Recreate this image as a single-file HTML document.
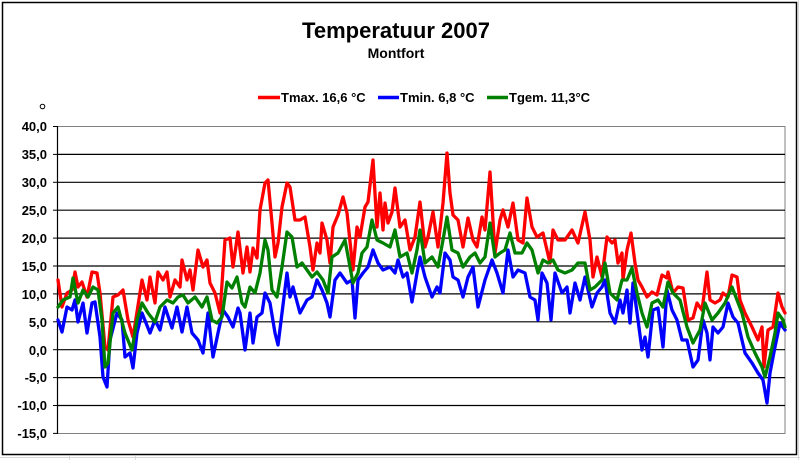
<!DOCTYPE html>
<html><head><meta charset="utf-8"><style>
html,body{margin:0;padding:0;background:#fff;}
svg{display:block;}
text{font-family:"Liberation Sans",Arial,sans-serif;font-weight:bold;fill:#000;}
</style></head><body>
<svg width="800" height="460" viewBox="0 0 800 460" xmlns="http://www.w3.org/2000/svg">
<rect x="0" y="0" width="800" height="460" fill="#fff"/>
<g stroke="#d8d8d8" stroke-width="1">
<line x1="0" y1="457.5" x2="800" y2="457.5"/>
<line x1="69.5" y1="456" x2="69.5" y2="460"/><line x1="135.5" y1="456" x2="135.5" y2="460"/>
<line x1="798.5" y1="0" x2="798.5" y2="460"/>
</g>
<rect x="2.5" y="2.5" width="794" height="452" fill="#fff" stroke="#000" stroke-width="1.5"/>
<rect x="57.5" y="126.5" width="727.5" height="307" fill="#fff" stroke="#808080" stroke-width="1"/>
<g stroke="#000" stroke-width="1.2">
<line x1="57" y1="154.4" x2="785" y2="154.4"/><line x1="57" y1="182.3" x2="785" y2="182.3"/>
<line x1="57" y1="210.2" x2="785" y2="210.2"/><line x1="57" y1="238.1" x2="785" y2="238.1"/>
<line x1="57" y1="266" x2="785" y2="266"/><line x1="57" y1="293.9" x2="785" y2="293.9"/>
<line x1="57" y1="321.8" x2="785" y2="321.8"/><line x1="57" y1="349.7" x2="785" y2="349.7"/>
<line x1="57" y1="377.6" x2="785" y2="377.6"/><line x1="57" y1="405.5" x2="785" y2="405.5"/>
<line x1="57.5" y1="126" x2="57.5" y2="434"/>
</g>
<g stroke="#000" stroke-width="1">
<line x1="53" y1="126.5" x2="57" y2="126.5"/><line x1="53" y1="154.4" x2="57" y2="154.4"/><line x1="53" y1="182.3" x2="57" y2="182.3"/><line x1="53" y1="210.2" x2="57" y2="210.2"/><line x1="53" y1="238.1" x2="57" y2="238.1"/><line x1="53" y1="266" x2="57" y2="266"/><line x1="53" y1="293.9" x2="57" y2="293.9"/><line x1="53" y1="321.8" x2="57" y2="321.8"/><line x1="53" y1="349.7" x2="57" y2="349.7"/><line x1="53" y1="377.6" x2="57" y2="377.6"/><line x1="53" y1="405.5" x2="57" y2="405.5"/><line x1="53" y1="433.4" x2="57" y2="433.4"/>
</g>
<g font-size="13" text-anchor="end">
<text x="47" y="131">40,0</text><text x="47" y="159">35,0</text><text x="47" y="187">30,0</text><text x="47" y="215">25,0</text><text x="47" y="243">20,0</text><text x="47" y="271">15,0</text><text x="47" y="299">10,0</text><text x="47" y="327">5,0</text><text x="47" y="355">0,0</text><text x="47" y="382">-5,0</text><text x="47" y="410">-10,0</text><text x="47" y="438">-15,0</text>
</g>
<circle cx="42.5" cy="106.5" r="2.3" fill="none" stroke="#000" stroke-width="1"/>
<text x="396" y="38" font-size="22" text-anchor="middle">Temperatuur 2007</text>
<text x="396" y="58" font-size="14" text-anchor="middle">Montfort</text>
<g stroke-width="3.5">
<line x1="258" y1="97.5" x2="280" y2="97.5" stroke="#ff0000"/>
<line x1="378" y1="97.5" x2="399" y2="97.5" stroke="#0000ff"/>
<line x1="487" y1="97.5" x2="508" y2="97.5" stroke="#008000"/>
</g>
<g font-size="13">
<text x="281" y="102">Tmax. 16,6 °C</text>
<text x="400" y="102">Tmin. 6,8 °C</text>
<text x="509" y="102">Tgem. 11,3°C</text>
</g>
<g fill="none" stroke-width="3.3" stroke-linejoin="round" stroke-linecap="round">
<polyline stroke="#ff0000" points="58,280 62,307 67,293 72,290 75,272 78,287 82,282 87,297 92,272 97,273 100,293 105,347 108,350 113,297 118,295 123,290 128,320 133,337 137,312 142,280 147,300 150,277 155,303 158,272 163,280 167,272 170,297 175,280 180,287 182,260 187,280 190,270 193,290 198,250 203,267 207,260 210,283 215,293 220,313 225,240 230,238 233,267 238,232 243,273 247,247 250,272 253,248 257,258 260,210 265,183 268,180 272,223 275,257 278,243 282,207 287,183 290,187 295,220 300,220 305,217 310,247 313,270 317,243 320,253 322,223 327,240 330,263 333,227 338,215 343,197 347,213 353,270 357,227 360,237 365,207 368,202 373,160 377,227 380,193 383,230 385,203 388,223 392,212 395,188 400,227 405,220 410,250 415,237 420,202 425,247 428,237 433,212 438,247 443,203 447,153 450,193 453,215 458,220 463,247 468,218 473,240 477,247 482,217 485,230 490,172 495,253 500,220 503,210 508,227 513,203 518,240 523,243 527,198 532,227 537,237 543,233 550,263 553,230 558,240 565,240 572,230 578,243 585,212 590,240 593,277 597,257 602,277 607,237 612,243 615,240 618,263 622,253 623,280 627,250 631,233 635,263 638,280 642,287 647,297 652,292 657,295 662,275 667,278 668,272 673,293 678,287 683,288 688,320 693,318 697,303 702,310 707,272 710,300 715,303 720,300 723,293 728,297 732,275 737,277 740,300 745,313 752,327 758,340 762,327 764,367 768,330 773,327 778,293 782,307 785,313"/>
<polyline stroke="#0000ff" points="58,320 62,332 67,307 72,310 75,300 78,322 83,303 87,333 92,303 95,302 100,337 103,377 107,387 110,340 117,313 122,320 125,357 130,353 133,368 137,333 142,313 150,333 155,320 160,330 165,307 172,328 177,307 182,332 187,307 192,333 198,340 203,353 208,313 213,357 218,333 223,310 228,317 233,327 238,308 240,313 245,350 250,313 253,343 257,317 262,313 265,293 270,303 275,333 278,345 282,313 287,273 290,297 293,287 300,313 307,300 312,297 317,280 322,290 327,303 330,317 335,280 340,273 347,283 352,280 355,318 358,280 363,273 368,267 373,250 378,263 383,270 390,267 395,273 398,260 403,277 407,273 412,302 417,273 420,257 425,277 432,297 437,287 440,293 445,253 450,260 453,277 458,280 463,297 468,277 473,267 478,307 485,280 492,260 497,273 503,293 508,250 513,277 518,270 525,273 530,297 535,300 538,320 542,273 547,283 551,320 555,273 562,293 567,287 570,313 575,283 580,300 585,277 592,307 597,293 602,287 605,280 610,313 615,323 620,300 623,313 627,290 630,323 633,283 638,320 642,350 645,337 648,357 653,310 658,308 663,347 667,290 672,310 677,320 682,340 687,340 693,367 698,360 703,320 707,333 710,360 713,327 718,333 723,327 728,303 733,317 738,323 745,353 752,363 758,373 763,380 767,403 770,373 775,347 780,323 785,330"/>
<polyline stroke="#008000" points="58,307 63,300 70,297 73,278 78,303 83,290 88,297 93,287 98,290 102,320 105,367 108,363 113,313 118,307 125,333 132,350 137,320 142,303 148,313 155,322 160,307 167,300 173,303 178,297 183,295 188,303 195,297 202,307 207,297 212,320 217,323 222,317 227,282 232,288 237,277 242,303 245,307 250,287 255,293 260,273 265,240 268,250 272,290 277,297 282,267 287,232 292,237 297,267 302,263 307,270 312,277 317,272 323,280 328,293 332,257 338,253 345,240 350,267 353,283 358,273 362,253 367,247 372,220 377,240 383,243 390,247 395,230 400,257 407,253 412,273 417,250 420,230 425,263 432,257 438,267 443,240 447,217 452,250 458,253 463,267 470,257 475,253 480,263 485,257 490,223 495,257 500,253 505,250 510,233 515,253 522,253 527,243 532,250 538,273 543,260 548,263 553,260 558,270 565,273 572,270 578,263 585,263 590,290 595,287 602,280 605,263 610,293 617,300 622,280 627,280 632,268 637,293 642,313 647,327 652,303 658,300 663,307 668,282 673,293 680,300 687,327 693,343 700,330 705,303 712,320 718,313 725,303 732,287 737,300 742,313 748,337 755,353 762,367 765,377 770,357 775,333 778,313 783,320 785,327"/>
</g>
</svg>
</body></html>
